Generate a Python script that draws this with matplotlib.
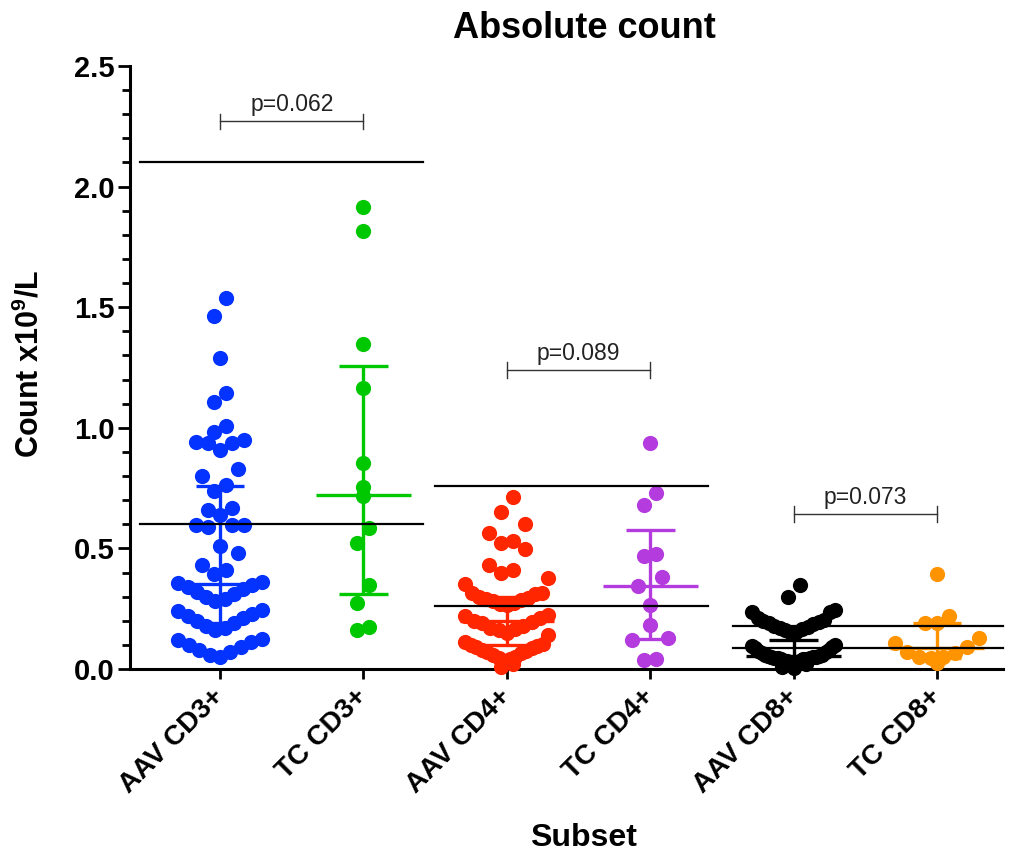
import numpy as np
import matplotlib
matplotlib.use('Agg')
import matplotlib.pyplot as plt

plt.rcParams['font.family'] = ['Liberation Sans', 'DejaVu Sans']
plt.rcParams['mathtext.fontset'] = 'custom'
plt.rcParams['mathtext.rm'] = 'Liberation Sans'
plt.rcParams['mathtext.bf'] = 'Liberation Sans:bold'

# ---------------- data ----------------
categories = ['AAV CD3+', 'TC CD3+', 'AAV CD4+', 'TC CD4+', 'AAV CD8+', 'TC CD8+']
colors = ['#0433FF', '#00C800', '#FF2600', '#B43CDF', '#000000', '#FF9300']

aav_cd3 = [1.54, 1.465, 1.29, 1.146, 1.108, 1.007, 0.984, 0.95, 0.94, 0.935, 0.935, 0.908,
           0.828, 0.80, 0.763, 0.737, 0.666, 0.66, 0.638, 0.597, 0.597, 0.597, 0.59,
           0.51, 0.48, 0.43, 0.41, 0.394,
           0.36, 0.355, 0.35, 0.34, 0.33, 0.32, 0.31, 0.30, 0.29, 0.28,
           0.245, 0.24, 0.23, 0.22, 0.21, 0.20, 0.19, 0.18, 0.17, 0.16,
           0.125, 0.12, 0.11, 0.10, 0.09, 0.08, 0.07, 0.06, 0.05]
tc_cd3 = [1.914, 1.815, 1.347, 1.164, 0.853, 0.756, 0.717, 0.586, 0.521, 0.348, 0.272, 0.175, 0.162]
aav_cd4 = [0.712, 0.65, 0.603, 0.565, 0.532, 0.524, 0.496, 0.433, 0.41, 0.396, 0.379, 0.351,
           0.315, 0.315, 0.31, 0.30, 0.295, 0.29, 0.285, 0.28, 0.275, 0.27, 0.265,
           0.225, 0.22, 0.21, 0.20, 0.195, 0.19, 0.18, 0.17, 0.165, 0.16, 0.15, 0.14,
           0.11, 0.105, 0.10, 0.095, 0.09, 0.085, 0.08, 0.075, 0.07, 0.065,
           0.06, 0.05, 0.045, 0.04, 0.035, 0.02, 0.01]
tc_cd4 = [0.938, 0.731, 0.68, 0.477, 0.468, 0.38, 0.345, 0.267, 0.182, 0.127, 0.12, 0.04, 0.037]
aav_cd8 = [0.348, 0.297, 0.245, 0.236, 0.236,
           0.21, 0.205, 0.20, 0.195, 0.19, 0.185, 0.18, 0.175, 0.17, 0.165, 0.16, 0.155, 0.15,
           0.10, 0.095, 0.09, 0.085, 0.08, 0.075, 0.07, 0.065, 0.06, 0.06, 0.055, 0.055,
           0.05, 0.05, 0.05, 0.045, 0.045, 0.045, 0.04, 0.04, 0.04, 0.035, 0.035, 0.035,
           0.03, 0.03, 0.03, 0.02, 0.01, 0.005]
tc_cd8 = [0.394, 0.22, 0.19, 0.19, 0.13, 0.106, 0.092, 0.072, 0.065, 0.05, 0.048, 0.045, 0.023]
series = [aav_cd3, tc_cd3, aav_cd4, tc_cd4, aav_cd8, tc_cd8]

# median and interquartile range
medians = [0.352, 0.72, 0.20, 0.345, 0.055, 0.087]
q1_vals = [0.19, 0.31, 0.10, 0.124, 0.03, 0.047]
q3_vals = [0.76, 1.256, 0.30, 0.578, 0.12, 0.19]

# reference ranges (pairs of subsets)
ref_low = [0.60, 0.26, 0.087]
ref_high = [2.10, 0.76, 0.18]

# p-values between AAV and TC
p_labels = ['p=0.062', 'p=0.089', 'p=0.073']
p_heights = [2.27, 1.24, 0.643]

# ---------------- layout helpers ----------------
def binned_swarm(values, bin_w=0.117, base=0.03, step=0.084, maxw=0.58):
    """GraphPad-like scatter: values grouped into horizontal bins, spread sideways,
    lowest value of each bin in the middle."""
    v = np.sort(np.asarray(values, dtype=float))
    idx = np.floor((v - base) / bin_w + 1e-9).astype(int)
    xs, ys = [], []
    for b in np.unique(idx):
        r = v[idx == b]
        n = len(r)
        s = step if n <= 1 else min(step, maxw / (n - 1))
        slots = np.arange(n) - (n - 1) / 2.0
        order = sorted(slots, key=lambda o: (abs(o), o))
        for val, o in zip(r, order):
            xs.append(o * s)
            ys.append(val)
    return np.array(xs), np.array(ys)

fig = plt.figure(figsize=(10.26, 8.55), dpi=100)
ax = fig.add_axes([130 / 1026, 1 - 669 / 855, (1003 - 130) / 1026, (669 - 66) / 855])

for i, (vals, c) in enumerate(zip(series, colors)):
    dx, y = binned_swarm(vals)
    ax.scatter(i + dx, y, s=120, color=c, linewidths=0, zorder=3, clip_on=False)
    # median + IQR
    ax.plot([i, i], [q1_vals[i], q3_vals[i]], color=c, lw=2.4, zorder=4, solid_capstyle='butt')
    ax.plot([i - 0.17, i + 0.17], [q1_vals[i]] * 2, color=c, lw=2.4, zorder=4, solid_capstyle='butt')
    ax.plot([i - 0.17, i + 0.17], [q3_vals[i]] * 2, color=c, lw=2.4, zorder=4, solid_capstyle='butt')
    ax.plot([i - 0.33, i + 0.33], [medians[i]] * 2, color=c, lw=2.4, zorder=4, solid_capstyle='butt')

ref_extent = [(-0.558, 1.415), (1.50, 3.40), (3.58, 5.46)]
for k in range(3):
    x0, x1 = ref_extent[k]
    for yv in (ref_low[k], ref_high[k]):
        ax.plot([x0, x1], [yv, yv], color='black', lw=1.6, zorder=5, clip_on=False)

for k in range(3):
    a, b = 2 * k, 2 * k + 1
    h = p_heights[k]
    ax.plot([a, b], [h, h], color='#333333', lw=1.0, zorder=5)
    ax.plot([a, a], [h - 0.033, h + 0.033], color='#333333', lw=1.0, zorder=5)
    ax.plot([b, b], [h - 0.033, h + 0.033], color='#333333', lw=1.0, zorder=5)
    ax.text((a + b) / 2, h + 0.022, p_labels[k], ha='center', va='bottom', fontsize=16.5, color='#222222')

ax.set_xlim(-0.628, 5.46)
ax.set_ylim(0, 2.5)
ax.spines['top'].set_visible(False)
ax.spines['right'].set_visible(False)
for sp in ('left', 'bottom'):
    ax.spines[sp].set_linewidth(2.2)

ax.set_yticks(np.arange(0, 2.51, 0.5))
ax.set_yticklabels([f'{t:.1f}' for t in np.arange(0, 2.51, 0.5)], fontsize=21, fontweight='bold')
ax.set_yticks(np.arange(0, 2.51, 0.1), minor=True)
ax.tick_params(axis='y', which='major', length=9, width=2, pad=2)
ax.tick_params(axis='y', which='minor', length=6, width=2)
ax.set_xticks(range(len(categories)))
ax.set_xticklabels(categories, rotation=45, ha='right', va='center', rotation_mode='anchor',
                   fontsize=20, fontweight='bold')
ax.tick_params(axis='x', which='major', length=7, width=2, pad=10)

fig.text(584 / 1026, 1 - 28 / 855, 'Absolute count', ha='center', va='center',
         fontsize=26, fontweight='bold')
fig.text(583 / 1026, 1 - 838 / 855, 'Subset', ha='center', va='center',
         fontsize=23, fontweight='bold')
fig.text(30 / 1026, 1 - 364 / 855, 'Count x10$^{\\mathbf{9}}$/L', ha='center', va='center',
         rotation=90, fontsize=22, fontweight='bold')

fig.savefig('out.png', dpi=100)
